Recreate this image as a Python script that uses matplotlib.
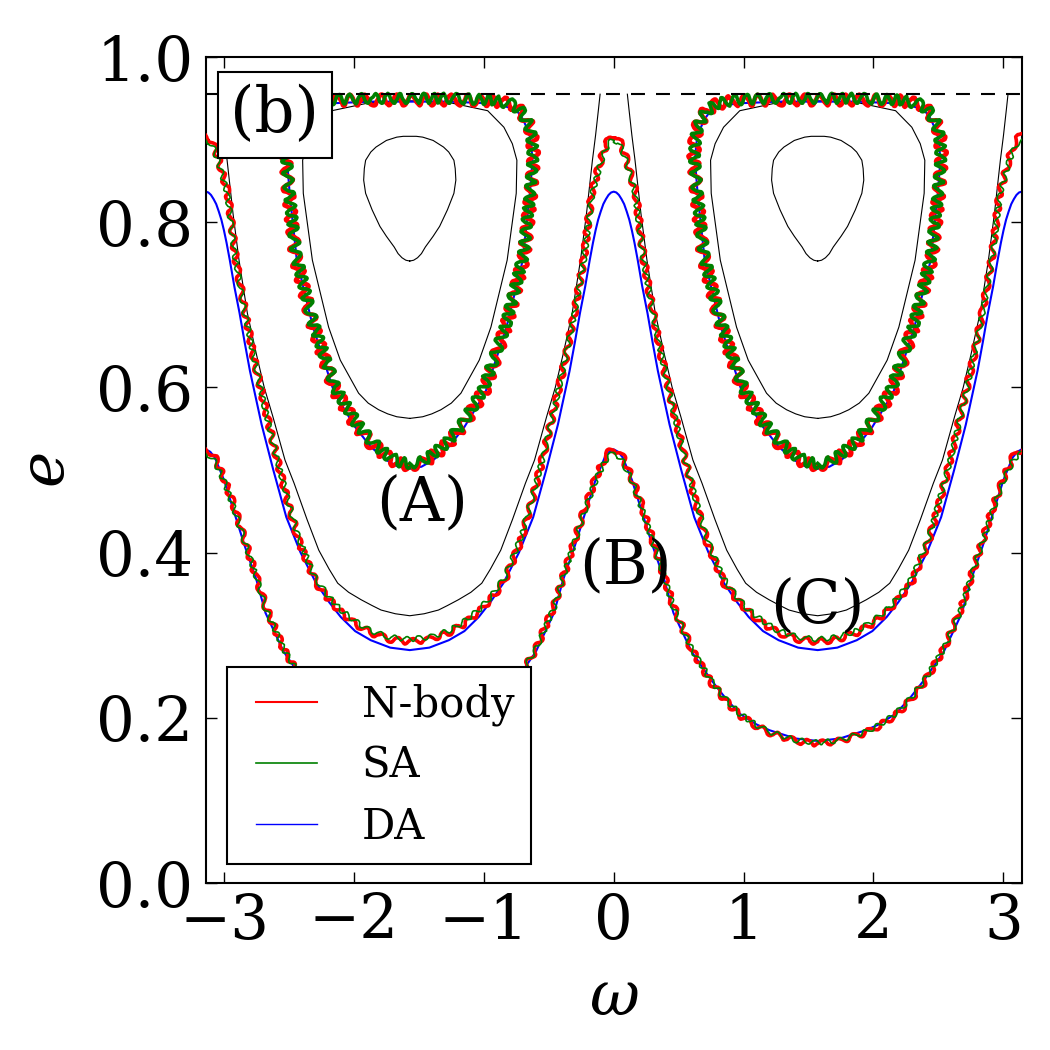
import numpy as np
import matplotlib
matplotlib.use('Agg')
import matplotlib.pyplot as plt
from matplotlib.lines import Line2D
from matplotlib.legend_handler import HandlerBase

plt.rcParams['font.family'] = 'DejaVu Serif'
plt.rcParams['mathtext.fontset'] = 'dejavuserif'

# ---------------- data ----------------
# circulating curves: d = distance of omega from 0 (mod pi), 0 .. pi/2
da_up_d = [0.0, 0.02, 0.04, 0.06, 0.08, 0.10, 0.12, 0.14, 0.16, 0.185, 0.22, 0.26, 0.30, 0.34, 0.43, 0.52, 0.62, 0.73, 0.85, 0.95, 1.04, 1.15, 1.27, 1.42, 1.5708]
da_up_e = [0.837, 0.836, 0.833, 0.828, 0.822, 0.813, 0.803, 0.79, 0.775, 0.754, 0.722, 0.69, 0.654, 0.62, 0.555, 0.50, 0.443, 0.40, 0.363, 0.34, 0.322, 0.305, 0.294, 0.285, 0.282]

nb_up_d = [0.0, 0.03, 0.06, 0.10, 0.17, 0.23, 0.30, 0.37, 0.46, 0.548, 0.63, 0.72, 0.85, 0.95, 1.04, 1.15, 1.27, 1.42, 1.5708]
nb_up_e = [0.905, 0.902, 0.894, 0.875, 0.835, 0.756, 0.693, 0.636, 0.573, 0.514, 0.462, 0.412, 0.363, 0.343, 0.328, 0.314, 0.303, 0.295, 0.292]

sa_up_d = [0.0, 0.03, 0.06, 0.10, 0.165, 0.225, 0.295, 0.365, 0.455, 0.54, 0.625, 0.71, 0.84, 0.94, 1.03, 1.14, 1.26, 1.41, 1.5708]
sa_up_e = [0.90, 0.897, 0.889, 0.872, 0.835, 0.758, 0.695, 0.64, 0.575, 0.518, 0.468, 0.42, 0.37, 0.348, 0.332, 0.318, 0.306, 0.298, 0.295]

da_lo_d = [0.0, 0.035, 0.07, 0.14, 0.22, 0.30, 0.39, 0.46, 0.60, 0.75, 0.86, 0.97, 1.10, 1.20, 1.40, 1.5708]
da_lo_e = [0.525, 0.522, 0.515, 0.488, 0.448, 0.408, 0.367, 0.327, 0.28, 0.246, 0.224, 0.205, 0.192, 0.185, 0.175, 0.172]

nb_lo_d = [0.0, 0.035, 0.07, 0.14, 0.22, 0.30, 0.39, 0.46, 0.60, 0.75, 0.86, 0.97, 1.10, 1.20, 1.40, 1.5708]
nb_lo_e = [0.525, 0.522, 0.515, 0.49, 0.455, 0.415, 0.37, 0.335, 0.283, 0.243, 0.221, 0.203, 0.19, 0.182, 0.172, 0.169]

sa_lo_d = [0.0, 0.035, 0.07, 0.14, 0.22, 0.30, 0.39, 0.46, 0.60, 0.75, 0.86, 0.97, 1.10, 1.20, 1.40, 1.5708]
sa_lo_e = [0.52, 0.517, 0.51, 0.487, 0.452, 0.413, 0.37, 0.333, 0.283, 0.245, 0.223, 0.205, 0.191, 0.183, 0.173, 0.170]

# outer black contour: d from 0 (mod pi), from the top (e = 0.955) to the bottom
bk_out_d = [0.105, 0.118, 0.14, 0.164, 0.21, 0.256, 0.32, 0.39, 0.45, 0.516, 0.61, 0.68, 0.78, 0.87, 0.95, 1.016, 1.10, 1.196, 1.28, 1.35, 1.46, 1.5708]
bk_out_e = [0.955, 0.936, 0.905, 0.875, 0.81, 0.754, 0.69, 0.64, 0.60, 0.565, 0.512, 0.484, 0.44, 0.403, 0.38, 0.363, 0.352, 0.343, 0.336, 0.3305, 0.326, 0.3236]

# librating loops: d = distance from omega = +-pi/2, from the bottom to the top
da_lib_d = [0.0, 0.09, 0.18, 0.30, 0.42, 0.58, 0.745, 0.87, 0.925, 0.945, 0.935, 0.92, 0.87, 0.82, 0.70, 0.6, 0.3, 0.0]
da_lib_e = [0.502, 0.504, 0.512, 0.528, 0.552, 0.593, 0.673, 0.754, 0.835, 0.875, 0.895, 0.908, 0.925, 0.936, 0.942, 0.944, 0.946, 0.946]

nb_lib_d = [0.0, 0.09, 0.18, 0.30, 0.42, 0.58, 0.75, 0.88, 0.935, 0.955, 0.945, 0.925, 0.87, 0.80, 0.65, 0.3, 0.0]
nb_lib_e = [0.506, 0.508, 0.517, 0.533, 0.556, 0.598, 0.678, 0.758, 0.838, 0.878, 0.90, 0.915, 0.932, 0.942, 0.947, 0.948, 0.948]

sa_lib_d = [0.0, 0.085, 0.17, 0.29, 0.41, 0.57, 0.745, 0.875, 0.93, 0.95, 0.94, 0.92, 0.865, 0.79, 0.64, 0.3, 0.0]
sa_lib_e = [0.508, 0.51, 0.518, 0.534, 0.557, 0.599, 0.679, 0.76, 0.84, 0.88, 0.902, 0.917, 0.933, 0.943, 0.948, 0.95, 0.95]

bk_lib1_d = [0.0, 0.1, 0.17, 0.24, 0.32, 0.394, 0.535, 0.625, 0.75, 0.82, 0.825, 0.79, 0.725, 0.6, 0.3, 0.0]
bk_lib1_e = [0.5625, 0.5645, 0.568, 0.573, 0.581, 0.593, 0.633, 0.673, 0.754, 0.835, 0.875, 0.895, 0.915, 0.935, 0.945, 0.947]

bk_lib2_d = [0.0, 0.03, 0.06, 0.09, 0.12, 0.18, 0.23, 0.29, 0.34, 0.355, 0.35, 0.34, 0.30, 0.26, 0.18, 0.10, 0.05, 0.0]
bk_lib2_e = [0.753, 0.754, 0.757, 0.762, 0.770, 0.783, 0.795, 0.815, 0.835, 0.851, 0.865, 0.875, 0.885, 0.891, 0.899, 0.903, 0.904, 0.904]

e_max = 0.955
xticks = [-3, -2, -1, 0, 1, 2, 3]
yticks = [0.0, 0.2, 0.4, 0.6, 0.8, 1.0]
labels = ['N-body', 'SA', 'DA']
annots = [('(A)', -1.478, 0.46), ('(B)', 0.092, 0.383), ('(C)', 1.569, 0.335)]

PI = np.pi


def circ(d, e):
    d = np.asarray(d, float); e = np.asarray(e, float)
    wh = np.concatenate([d, PI - d[::-1][1:]])
    eh = np.concatenate([e, e[::-1][1:]])
    return np.concatenate([wh - PI, wh[1:]]), np.concatenate([eh, eh[1:]])


def ushape(d, e):
    d = np.asarray(d, float); e = np.asarray(e, float)
    wh = np.concatenate([d, PI - d[::-1][1:]])
    eh = np.concatenate([e, e[::-1][1:]])
    return [(wh - PI, eh), (wh, eh)]


def loops(d, e):
    d = np.asarray(d, float); e = np.asarray(e, float)
    out = []
    for c in (-PI / 2, PI / 2):
        w = np.concatenate([c + d, (c - d)[::-1][1:]])
        ee = np.concatenate([e, e[::-1][1:]])
        out.append((w, ee))
    return out


class ShortLine(HandlerBase):
    """Legend line that starts a little to the right inside its handle box."""
    def create_artists(self, legend, orig_handle, xdescent, ydescent, width, height, fontsize, trans):
        y = (height - ydescent) / 2.0
        x0 = -xdescent + 0.165 * width
        x1 = -xdescent + width
        line = Line2D([x0, x1], [y, y], color=orig_handle.get_color(),
                      lw=orig_handle.get_linewidth(), transform=trans)
        return [line]


fig = plt.figure(figsize=(10.5, 10.5), dpi=100)
ax = fig.add_axes([0.196, 0.159, 0.777, 0.7867])

RED, GREEN, BLUE = '#ff0000', '#008000', '#0000ff'

# black DA contours
for w, e in ushape(bk_out_d, bk_out_e):
    ax.plot(w, e, color='k', lw=0.8, zorder=1)
for w, e in loops(bk_lib1_d, bk_lib1_e) + loops(bk_lib2_d, bk_lib2_e):
    ax.plot(w, e, color='k', lw=0.8, zorder=1)

# DA
for w, e in [circ(da_up_d, da_up_e), circ(da_lo_d, da_lo_e)] + loops(da_lib_d, da_lib_e):
    ax.plot(w, e, color=BLUE, lw=1.5, zorder=2)

# N-body
for w, e in [circ(nb_up_d, nb_up_e), circ(nb_lo_d, nb_lo_e)]:
    l, = ax.plot(w, e, color=RED, lw=2.6, zorder=3)
    l.set_sketch_params(2.8, 17.0, 2.0)
for w, e in loops(nb_lib_d, nb_lib_e):
    l, = ax.plot(w, e, color=RED, lw=3.2, zorder=3)
    l.set_sketch_params(5.5, 16.0, 2.0)

# SA
for w, e in [circ(sa_up_d, sa_up_e), circ(sa_lo_d, sa_lo_e)]:
    l, = ax.plot(w, e, color=GREEN, lw=1.2, zorder=4)
    l.set_sketch_params(2.5, 14.0, 2.0)
for w, e in loops(sa_lib_d, sa_lib_e):
    l, = ax.plot(w, e, color=GREEN, lw=2.6, zorder=4)
    l.set_sketch_params(5.0, 13.0, 2.0)

ax.axhline(e_max, color='k', lw=1.5, dashes=(6.7, 5.3), zorder=5)

for txt, x, y in annots:
    ax.text(x, y, txt, ha='center', va='center', fontsize=44, zorder=6)

ax.text(0.03, 0.967, '(b)', transform=ax.transAxes, ha='left', va='top', fontsize=45, zorder=10,
        bbox=dict(boxstyle='square,pad=0.2', fc='white', ec='black', lw=1.5))

handles = [Line2D([], [], color=RED, lw=1.5), Line2D([], [], color=GREEN, lw=1.2), Line2D([], [], color=BLUE, lw=1.0)]
leg = ax.legend(handles, labels, loc='lower left', bbox_to_anchor=(0.026, 0.0226), fontsize=30,
                frameon=True, fancybox=False, framealpha=1, edgecolor='black', borderaxespad=0,
                handlelength=1.75, handletextpad=1.08, labelspacing=0.45, borderpad=0.4,
                handler_map={h: ShortLine() for h in handles})
leg.get_frame().set_linewidth(1.5)
leg.set_zorder(10)

ax.set_xlim(-PI, PI)
ax.set_ylim(0, 1)
ax.set_xticks(xticks)
ax.set_yticks(yticks)
ax.set_yticklabels([f'{v:.1f}' for v in yticks])
ax.tick_params(direction='in', top=True, right=True, length=8, width=1, labelsize=44)
ax.tick_params(axis='x', pad=6)
ax.tick_params(axis='y', pad=9)
for s in ax.spines.values():
    s.set_linewidth(1.5)

ax.set_xlabel(r'$\omega$', fontsize=44, labelpad=12)
ax.set_ylabel(r'$e$', fontsize=44, labelpad=14)

fig.savefig('out.png', dpi=100)
